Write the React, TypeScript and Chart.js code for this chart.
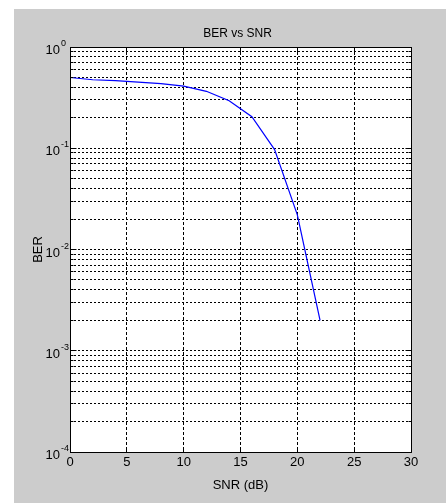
import React, { useEffect, useRef } from "react";
import { Chart, registerables } from "chart.js";

Chart.register(...registerables);

// ---- Data ----
const snrDb = [0, 2, 4, 6, 8, 10, 12, 14, 16, 18, 20, 22];
const berValues = [0.5, 0.475, 0.465, 0.45, 0.435, 0.41, 0.365, 0.295, 0.205, 0.097, 0.022, 0.002];
const xTickValues = [0, 5, 10, 15, 20, 25, 30];
const yExponents = [0, -1, -2, -3, -4];
const titleText = "BER vs SNR";
const xAxisLabel = "SNR (dB)";
const yAxisLabel = "BER";

// log grid values: 1..9 x 10^k for each decade
const yGridValues: number[] = [];
for (let e = -4; e < 0; e++) {
  for (let m = 1; m <= 9; m++) yGridValues.push(m * Math.pow(10, e));
}
yGridValues.push(1);

const FONT = '"Liberation Sans", Arial, Helvetica, sans-serif';

const align = (p: number) => Math.round(p - 0.5) + 0.5;

const matlabPlugin = {
  id: "matlabDecor",
  beforeDraw(chart: any) {
    const { ctx, chartArea: ca } = chart;
    ctx.save();
    ctx.fillStyle = "#ffffff";
    ctx.fillRect(ca.left, ca.top, ca.right - ca.left, ca.bottom - ca.top);
    ctx.restore();
  },
  afterDraw(chart: any) {
    const { ctx, chartArea: ca, scales } = chart;
    const xs = scales.x;
    const ys = scales.y;
    ctx.save();
    ctx.strokeStyle = "#000";
    ctx.lineWidth = 1;
    ctx.setLineDash([]);
    ctx.beginPath();
    // box
    const L = align(ca.left), R = align(ca.right), T = align(ca.top), B = align(ca.bottom);
    ctx.rect(L, T, R - L, B - T);
    // x ticks
    for (const v of xTickValues) {
      const px = align(xs.getPixelForValue(v));
      ctx.moveTo(px, B); ctx.lineTo(px, B - 5);
      ctx.moveTo(px, T); ctx.lineTo(px, T + 5);
    }
    // y ticks
    for (const v of yGridValues) {
      const lg = Math.log10(v);
      const major = Math.abs(lg - Math.round(lg)) < 1e-9;
      const len = major ? 6 : 3;
      const py = align(ys.getPixelForValue(v));
      ctx.moveTo(L, py); ctx.lineTo(L + len, py);
      ctx.moveTo(R, py); ctx.lineTo(R - len, py);
    }
    ctx.stroke();

    ctx.fillStyle = "#000";
    // title
    ctx.font = `12px ${FONT}`;
    ctx.textAlign = "center";
    ctx.textBaseline = "alphabetic";
    ctx.fillText(titleText, (ca.left + ca.right) / 2 - 3, ca.top - 10);

    // x tick labels
    ctx.font = `13px ${FONT}`;
    ctx.textBaseline = "top";
    for (const v of xTickValues) {
      ctx.fillText(String(v), xs.getPixelForValue(v), ca.bottom + 4);
    }
    // x label
    ctx.font = `13px ${FONT}`;
    ctx.fillText(xAxisLabel, (ca.left + ca.right) / 2, ca.bottom + 27);

    // y tick labels
    ctx.textBaseline = "alphabetic";
    for (const e of yExponents) {
      const py = ys.getPixelForValue(Math.pow(10, e));
      ctx.font = `13px ${FONT}`;
      ctx.textAlign = "right";
      ctx.fillText("10", ca.left - 10, py + 7);
      ctx.font = `9px ${FONT}`;
      ctx.textAlign = "left";
      ctx.fillText(String(e), ca.left - 9, py - 1);
    }

    // y label
    ctx.save();
    ctx.translate(ca.left - 32, (ca.top + ca.bottom) / 2);
    ctx.rotate(-Math.PI / 2);
    ctx.font = `13px ${FONT}`;
    ctx.textAlign = "center";
    ctx.textBaseline = "middle";
    ctx.fillText(yAxisLabel, 0, 0);
    ctx.restore();

    ctx.restore();
  },
};

export default function App() {
  const canvasRef = useRef<HTMLCanvasElement | null>(null);

  useEffect(() => {
    const canvas = canvasRef.current;
    if (!canvas) return;
    const chart = new Chart(canvas, {
      type: "line",
      data: {
        datasets: [
          {
            label: "BER",
            data: snrDb.map((x, i) => ({ x, y: berValues[i] })),
            borderColor: "#0000ff",
            backgroundColor: "#0000ff",
            borderWidth: 1.2,
            pointRadius: 0,
            tension: 0,
            fill: false,
          },
        ],
      },
      options: {
        animation: false,
        responsive: false,
        devicePixelRatio: 1,
        layout: { padding: { left: 56, top: 38, right: 35, bottom: 51 } },
        plugins: {
          legend: { display: false },
          tooltip: { enabled: false },
          title: { display: false },
        },
        scales: {
          x: {
            type: "linear",
            min: 0,
            max: 30,
            ticks: { display: false, stepSize: 5 },
            grid: { color: "#000", lineWidth: 1, drawTicks: false },
            border: { display: false, dash: [3, 2] },
          },
          y: {
            type: "logarithmic",
            min: 1e-4,
            max: 1,
            ticks: { display: false },
            afterBuildTicks: (scale: any) => {
              scale.ticks = yGridValues.map((v) => ({ value: v }));
            },
            grid: { color: "#000", lineWidth: 1, drawTicks: false },
            border: { display: false, dash: [2, 2] },
          },
        },
      },
      plugins: [matlabPlugin],
    });
    return () => chart.destroy();
  }, []);

  return (
    <div style={{ position: "fixed", left: 0, top: 0, width: 446, height: 503, background: "#ffffff", overflow: "hidden" }}>
      <div style={{ position: "absolute", left: 14, top: 9, width: 432, height: 494, background: "#cccccc" }}>
        <canvas ref={canvasRef} width={432} height={494} style={{ width: 432, height: 494, display: "block" }} />
      </div>
    </div>
  );
}
